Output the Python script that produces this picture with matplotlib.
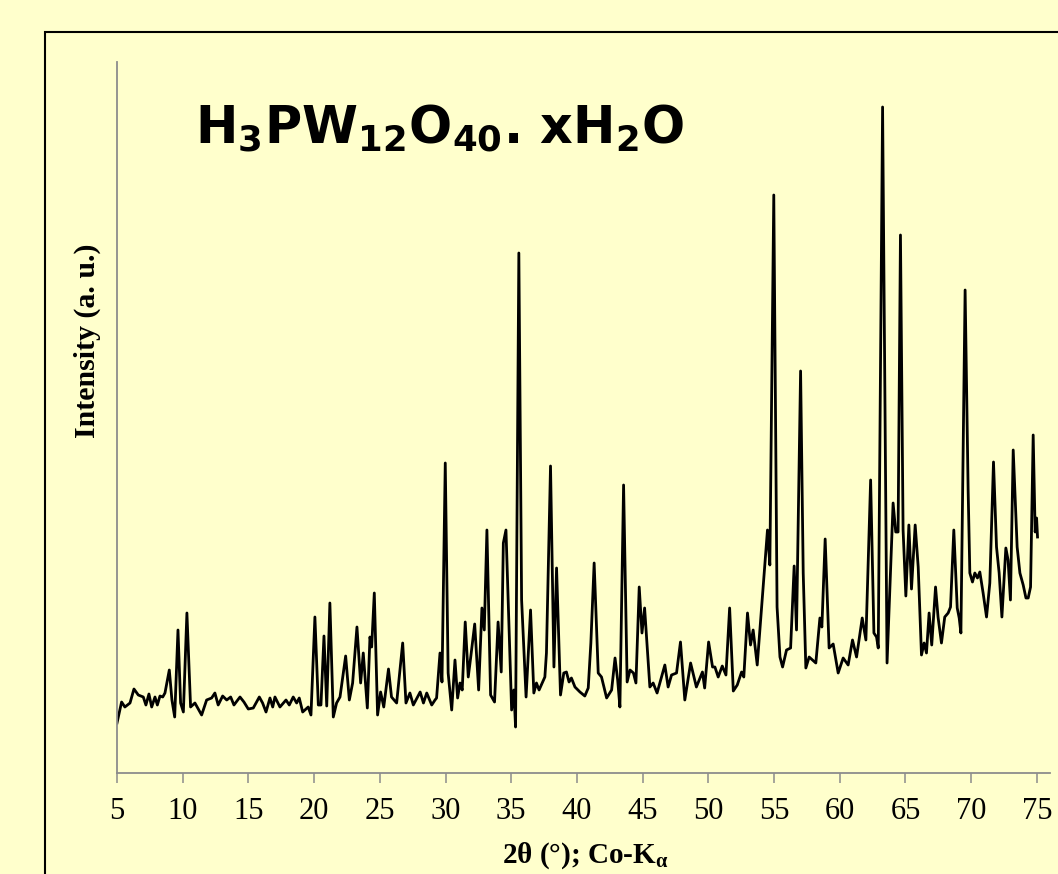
import matplotlib
matplotlib.use("Agg")
import matplotlib.pyplot as plt
from matplotlib.patches import Rectangle

# XRD pattern (2theta in degrees, intensity in arbitrary units)
two_theta = [
    5.00, 5.35, 5.60, 5.99, 6.29, 6.62, 7.00, 7.20, 7.43, 7.64, 7.89, 8.07, 8.27, 8.48, 8.65,
    8.98, 9.18, 9.39, 9.64, 9.84, 10.05, 10.32, 10.60, 10.93, 11.44, 11.82, 12.20, 12.45, 12.70,
    13.04, 13.35, 13.65, 13.90, 14.36, 14.66, 14.99, 15.37, 15.83, 16.08, 16.34, 16.64, 16.85,
    17.02, 17.40, 17.86, 18.11, 18.41, 18.67, 18.87, 19.13, 19.55, 19.76, 20.06, 20.32, 20.52,
    20.75, 20.96, 21.20, 21.46, 21.71, 21.97, 22.40, 22.68, 22.93, 23.26, 23.54, 23.74, 24.05,
    24.25, 24.38, 24.58, 24.83, 25.06, 25.30, 25.66, 25.89, 26.28, 26.74, 26.99, 27.29, 27.55,
    28.07, 28.32, 28.57, 28.95, 29.20, 29.32, 29.58, 29.73, 29.98, 30.20, 30.47, 30.72, 30.92,
    31.10, 31.27, 31.50, 31.73, 31.91, 32.22, 32.52, 32.77, 32.95, 33.15, 33.43, 33.73, 34.00,
    34.24, 34.40, 34.60, 35.03, 35.20, 35.33, 35.58, 35.79, 36.13, 36.47, 36.72, 36.92, 37.12,
    37.56, 37.68, 37.99, 38.25, 38.45, 38.75, 39.00, 39.20, 39.40, 39.58, 39.85, 40.23, 40.60,
    40.86, 41.06, 41.31, 41.62, 41.87, 42.26, 42.64, 42.90, 43.10, 43.27, 43.55, 43.82, 44.04,
    44.30, 44.49, 44.74, 44.95, 45.15, 45.55, 45.80, 46.10, 46.69, 46.94, 47.20, 47.58, 47.88,
    48.21, 48.65, 49.09, 49.55, 49.72, 50.02, 50.32, 50.50, 50.75, 51.06, 51.34, 51.62, 51.90,
    52.20, 52.53, 52.70, 52.98, 53.21, 53.41, 53.72, 53.97, 54.25, 54.50, 54.68, 54.98, 55.23,
    55.45, 55.65, 55.95, 56.26, 56.53, 56.71, 57.02, 57.22, 57.42, 57.67, 57.93, 58.18, 58.49,
    58.64, 58.89, 59.19, 59.50, 59.88, 60.26, 60.64, 60.97, 61.28, 61.71, 61.99, 62.35, 62.60,
    62.80, 62.93, 63.26, 63.60, 64.06, 64.26, 64.44, 64.62, 64.82, 65.03, 65.26, 65.46, 65.74,
    65.97, 66.22, 66.42, 66.60, 66.80, 67.00, 67.29, 67.48, 67.74, 67.99, 68.25, 68.43, 68.68,
    68.94, 69.09, 69.22, 69.54, 69.77, 69.90, 70.10, 70.28, 70.48, 70.66, 70.91, 71.17, 71.42,
    71.70, 71.93, 72.13, 72.34, 72.64, 72.81, 72.99, 73.20, 73.50, 73.71, 73.96, 74.17, 74.34,
    74.52, 74.72, 74.87, 74.98, 75.05,
]
intensity = [
    50, 71, 66, 70, 84, 78, 76, 68, 79, 66, 76, 68, 77, 76, 80,
    103, 73, 56, 143, 70, 61, 160, 66, 70, 58, 73, 75, 80, 68,
    77, 73, 76, 68, 76, 71, 64, 65, 76, 70, 61, 75, 66,
    76, 66, 73, 68, 76, 70, 75, 61, 66, 58, 156, 68, 68,
    137, 67, 170, 56, 70, 76, 117, 73, 90, 146, 90, 120, 65,
    136, 126, 180, 58, 81, 66, 104, 76, 70, 130, 70, 80, 68,
    81, 70, 80, 68, 73, 75, 120, 91, 310, 100, 63, 113, 75,
    90, 83, 151, 96, 115, 149, 83, 165, 143, 243, 78, 71, 151,
    101, 230, 243, 63, 83, 46, 520, 173, 76, 163, 80, 90, 83,
    96, 120, 307, 106, 205, 78, 100, 101, 91, 95, 86, 81, 77,
    85, 130, 210, 100, 96, 75, 83, 115, 93, 66, 288, 91, 103,
    100, 90, 186, 140, 165, 86, 90, 80, 108, 86, 98, 100, 131,
    73, 110, 86, 101, 85, 131, 106, 106, 96, 107, 98, 165, 82,
    88, 101, 96, 160, 128, 143, 108, 151, 200, 243, 208, 578, 166,
    116, 106, 123, 125, 207, 143, 402, 200, 105, 116, 113, 110, 155,
    146, 234, 125, 129, 100, 115, 108, 133, 116, 155, 133, 293, 140,
    136, 125, 666, 110, 270, 241, 241, 538, 243, 177, 248, 184, 248,
    206, 118, 130, 120, 160, 128, 186, 156, 130, 156, 160, 166, 243,
    165, 155, 140, 483, 283, 200, 191, 200, 195, 201, 180, 156, 190,
    311, 226, 200, 156, 225, 213, 173, 323, 226, 200, 188, 175, 175,
    186, 338, 241, 255, 236,
]
x_ticks = list(range(5, 80, 5))

bg = '#FFFFCC'
axis_grey = '#8C8C8C'
plt.rcParams['mathtext.default'] = 'regular'

fig = plt.figure(figsize=(10.58, 8.74), dpi=100, facecolor=bg)
ax = fig.add_axes([117 / 1058, 1 - 773 / 874, 933 / 1058, 711 / 874])
ax.set_facecolor(bg)

ax.plot(two_theta, intensity, color='black', lw=2.0, solid_joinstyle='round')

ax.set_xlim(5, 76)
ax.set_ylim(0, 711)
ax.set_xticks(x_ticks)
ax.set_yticks([])
for side in ['top', 'right']:
    ax.spines[side].set_visible(False)
for side in ['left', 'bottom']:
    ax.spines[side].set_color(axis_grey)
    ax.spines[side].set_linewidth(1.3)
ax.tick_params(axis='x', direction='out', length=7, width=1.1, color=axis_grey,
               pad=10, labelsize=22)
for lbl in ax.get_xticklabels():
    lbl.set_fontfamily('Liberation Serif')

# подписи осей
fig.text(585 / 1058, 1 - 863 / 874, '2θ (°); Co-K$_α$', ha='center', va='baseline',
         fontsize=21, fontweight='bold', fontfamily='Liberation Serif')
fig.text(87 / 1058, 1 - 341 / 874, 'Intensity (a. u.)', rotation=90, ha='center', va='center',
         fontsize=21.5, fontweight='bold', fontfamily='Liberation Serif')

# формула образца
fig.text(195 / 1058, 1 - 143 / 874, 'H$_3$PW$_{12}$O$_{40}$. xH$_2$O', ha='left', va='baseline',
         fontsize=36.5, fontweight='bold', fontfamily='DejaVu Sans')

# рамка вокруг области графика
fig.add_artist(Rectangle((45 / 1058, -0.1), 2, 1.1 - 32 / 874, transform=fig.transFigure,
                         fill=False, edgecolor='black', lw=1.5))

fig.savefig('out.png', dpi=100, facecolor=bg)
